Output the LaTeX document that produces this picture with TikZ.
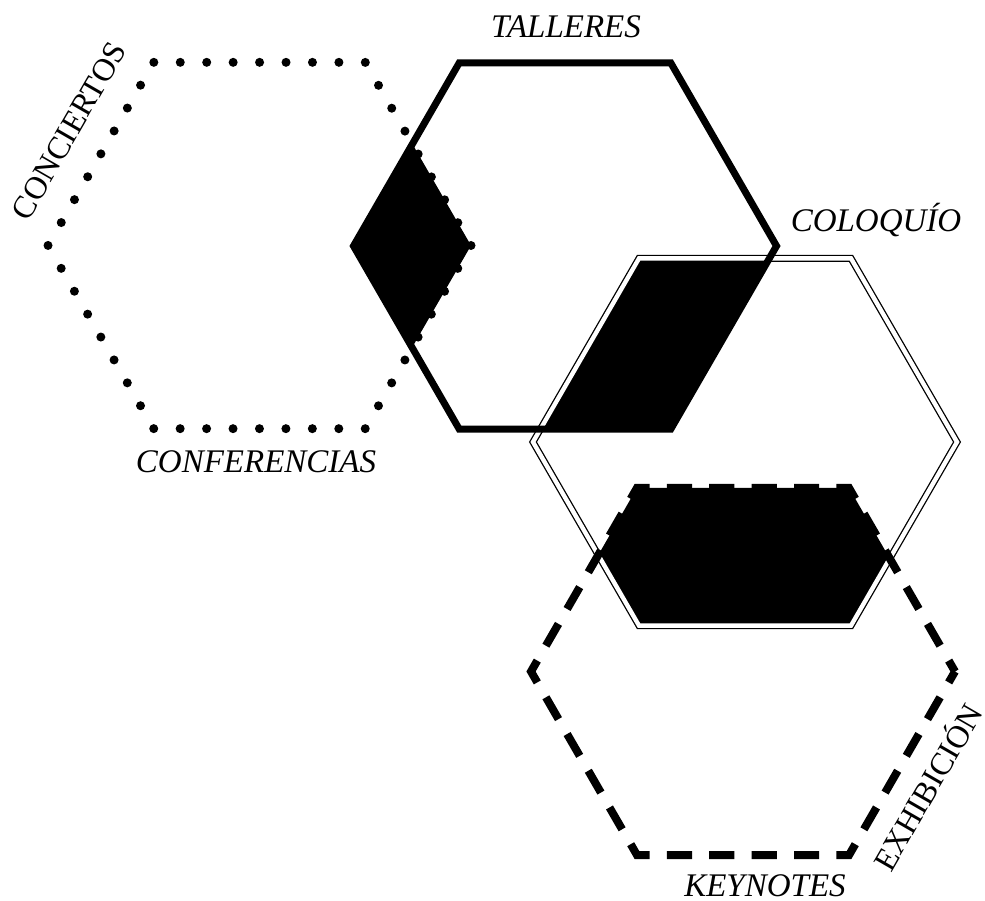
\documentclass[tikz,border=0pt]{standalone}
\usepackage{fontspec}
\setmainfont{Liberation Serif}
\usepackage{tikz}
\newcommand{\hexagon}[2]{(#1) ++(0:#2) -- ++(120:#2) -- ++(180:#2) -- ++(240:#2) -- ++(300:#2) -- ++(0:#2) -- cycle}
\begin{document}
\begin{tikzpicture}[
  x=1pt, y=-1pt,
  dotline/.style={line width=9pt, line cap=round, dash pattern=on 0pt off 26.44pt},
  solidline/.style={line width=7pt, line join=miter},
  doubleline/.style={double, line width=1.3pt, double distance=4.4pt},
  dashline/.style={line width=8pt, dash pattern=on 25.2pt off 17.2pt, dash phase=12.6pt},
  label/.style={inner sep=0pt, font=\fontsize{33}{38}\selectfont\itshape},
  sidelabel/.style={inner sep=0pt, rotate=60, font=\fontsize{32}{38}\selectfont}
]
\useasboundingbox (0,0) rectangle (985,901);
\coordinate (conc) at (259.5,245.5);
\coordinate (tall) at (565,246);
\coordinate (colo) at (745,442);
\coordinate (expo) at (743,671.5);

% overlaps
\begin{scope}
  \clip \hexagon{conc}{211.5};
  \fill \hexagon{tall}{211.5};
\end{scope}
\begin{scope}
  \clip \hexagon{tall}{211.5};
  \fill \hexagon{colo}{212};
\end{scope}
\begin{scope}
  \clip \hexagon{colo}{212};
  \fill \hexagon{expo}{212};
\end{scope}

\draw[doubleline] \hexagon{colo}{212};
\draw[dashline] \hexagon{expo}{212};
\draw[dotline] \hexagon{conc}{211.5};
\draw[solidline] \hexagon{tall}{211.5};

\node[label, anchor=base] (talleres) at (566,38) {TALLERES};
\node[label, anchor=base] (conferencias) at (256,472) {CONFERENCIAS};
\node[label, anchor=base] (coloquio) at (876,232) {COLOQUÍO};
\node[label, anchor=base] (keynotes) at (765,896) {KEYNOTES};
\node[sidelabel] (conciertos) at (69,131) {CONCIERTOS};
\node[sidelabel] (exhibicion) at (926,786) {EXHIBICIÓN};
\end{tikzpicture}
\end{document}
